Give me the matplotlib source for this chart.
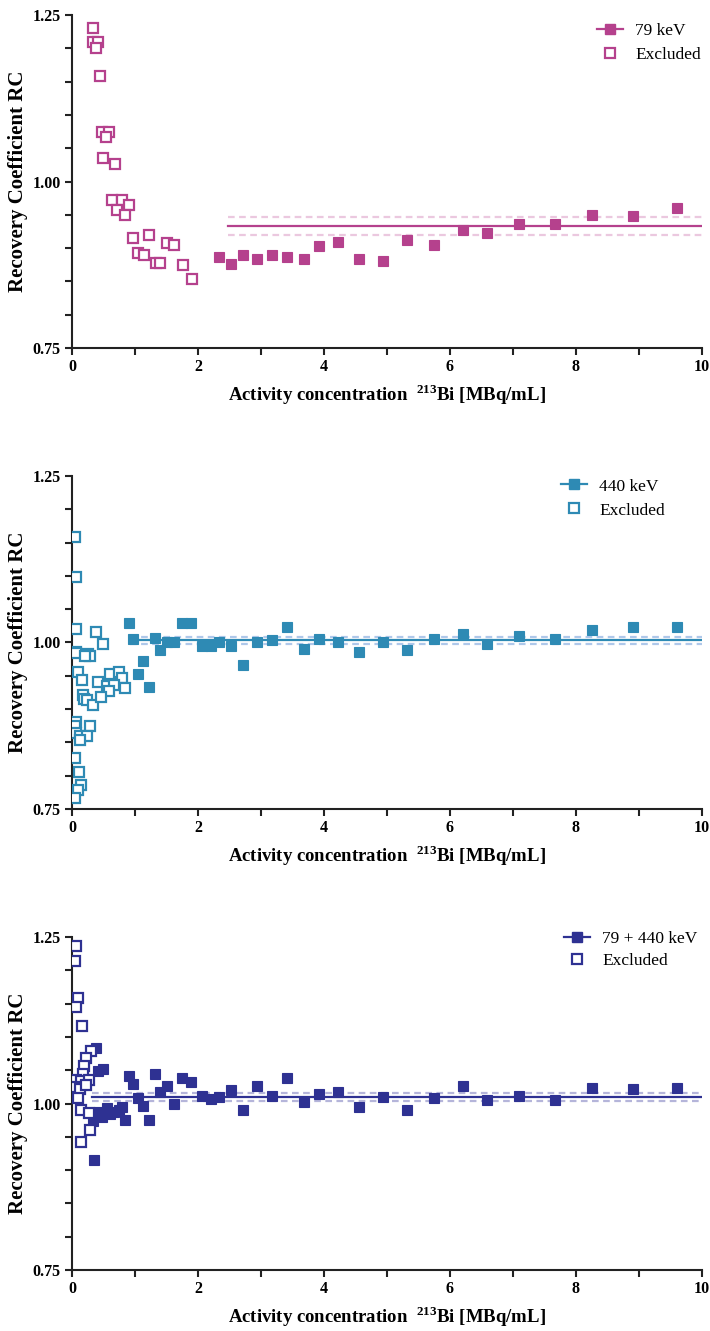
import matplotlib
matplotlib.use("Agg")
import matplotlib.pyplot as plt
from matplotlib.ticker import MultipleLocator, FixedLocator

plt.rcParams['font.family'] = ['Liberation Serif', 'DejaVu Serif']
plt.rcParams['mathtext.fontset'] = 'custom'
plt.rcParams['mathtext.rm'] = 'Liberation Serif:bold'
plt.rcParams['mathtext.bf'] = 'Liberation Serif:bold'

# ---------------- data ----------------
# Panel 1: 79 keV
excl1_x = [0.33, 0.34, 0.42, 0.38, 0.44, 0.47, 0.59, 0.54, 0.50, 0.68, 0.63, 0.79, 0.90,
           0.72, 0.84, 0.97, 1.22, 1.05, 1.14, 1.51, 1.62, 1.33, 1.40, 1.76, 1.90]
excl1_y = [1.231, 1.210, 1.210, 1.200, 1.158, 1.074, 1.075, 1.067, 1.035, 1.027, 0.972, 0.972,
           0.965, 0.957, 0.950, 0.915, 0.919, 0.892, 0.889, 0.908, 0.905, 0.877, 0.877, 0.875, 0.854]
incl1_x = [2.34, 2.52, 2.72, 2.94, 3.17, 3.42, 3.69, 3.92, 4.23, 4.56, 4.93, 5.31, 5.74,
           6.20, 6.58, 7.10, 7.66, 8.26, 8.91, 9.61]
incl1_y = [0.886, 0.876, 0.889, 0.884, 0.890, 0.886, 0.883, 0.903, 0.909, 0.883, 0.880, 0.912,
           0.905, 0.927, 0.923, 0.936, 0.936, 0.950, 0.948, 0.960]
incl1_err = [0.002, 0.002, 0.002, 0.002, 0.002, 0.002, 0.002, 0.002, 0.002, 0.002, 0.002, 0.002,
             0.002, 0.006, 0.006, 0.002, 0.002, 0.006, 0.006, 0.002]
mean1, lo1, hi1, start1 = 0.934, 0.920, 0.947, 2.48

# Panel 2: 440 keV
excl2_x = [0.05, 0.06, 0.06, 0.38, 0.50, 0.06, 0.07, 0.26, 0.29, 0.21, 0.10, 0.16, 0.41,
           0.61, 0.74, 0.79, 0.55, 0.67, 0.59, 0.84, 0.18, 0.19, 0.24, 0.34, 0.46, 0.06,
           0.05, 0.29, 0.07, 0.13, 0.24, 0.12, 0.05, 0.11, 0.15, 0.10, 0.05]
excl2_y = [1.158, 1.098, 1.020, 1.015, 0.998, 0.986, 0.984, 0.983, 0.979, 0.979, 0.956, 0.943,
           0.941, 0.953, 0.956, 0.947, 0.935, 0.936, 0.927, 0.932, 0.921, 0.915, 0.914, 0.906,
           0.918, 0.880, 0.874, 0.874, 0.864, 0.859, 0.860, 0.854, 0.826, 0.806, 0.786, 0.779, 0.767]
incl2_x = [0.90, 0.97, 1.05, 1.13, 1.22, 1.32, 1.40, 1.51, 1.62, 1.75, 1.89, 2.06, 2.21,
           2.34, 2.52, 2.72, 2.94, 3.17, 3.42, 3.69, 3.92, 4.23, 4.56, 4.93, 5.31, 5.74,
           6.20, 6.58, 7.10, 7.66, 8.26, 8.91, 9.61]
incl2_y = [1.029, 1.005, 0.953, 0.972, 0.933, 1.006, 0.989, 1.000, 1.000, 1.029, 1.029, 0.995,
           0.995, 1.001, 0.995, 0.966, 1.001, 1.003, 1.023, 0.990, 1.005, 1.001, 0.985, 1.000,
           0.988, 1.005, 1.013, 0.997, 1.010, 1.005, 1.018, 1.023, 1.023]
mean2, lo2, hi2, start2 = 1.003, 0.997, 1.008, 0.92

# Panel 3: 79 + 440 keV
excl3_x = [0.06, 0.05, 0.09, 0.07, 0.16, 0.30, 0.22, 0.19, 0.17, 0.06, 0.14, 0.27, 0.06,
           0.12, 0.22, 0.10, 0.14, 0.27, 0.29, 0.14]
excl3_y = [1.236, 1.214, 1.158, 1.145, 1.116, 1.079, 1.069, 1.056, 1.045, 1.036, 1.034, 1.035,
           1.025, 1.022, 1.028, 1.009, 0.990, 0.986, 0.960, 0.942]
incl3_x = [0.33, 0.35, 0.38, 0.42, 0.43, 0.47, 0.50, 0.55, 0.60, 0.67, 0.74, 0.80, 0.84,
           0.90, 0.97, 1.05, 1.13, 1.22, 1.32, 1.40, 1.51, 1.62, 1.75, 1.89, 2.06, 2.21,
           2.34, 2.52, 2.72, 2.94, 3.17, 3.42, 3.69, 3.92, 4.23, 4.56, 4.93, 5.31, 5.74,
           6.20, 6.58, 7.10, 7.66, 8.26, 8.91, 9.61]
incl3_y = [0.974, 0.915, 1.083, 1.049, 0.987, 0.980, 1.052, 0.993, 0.985, 0.987, 0.990, 0.995,
           0.975, 1.041, 1.029, 1.008, 0.996, 0.975, 1.045, 1.017, 1.026, 1.000, 1.038, 1.032,
           1.011, 1.007, 1.010, 1.021, 0.990, 1.027, 1.011, 1.038, 1.002, 1.014, 1.018, 0.995,
           1.010, 0.991, 1.009, 1.026, 1.005, 1.011, 1.006, 1.023, 1.022, 1.024]
mean3, lo3, hi3, start3 = 1.010, 1.004, 1.016, 0.31

labels = ["79 keV", "440 keV", "79 + 440 keV"]
colors = ["#B5418D", "#2E8AB4", "#2E3192"]
light = ["#EBC8DF", "#AFC8EA", "#B5B5DA"]

xmax = 10

fig = plt.figure(figsize=(7.10, 13.31), dpi=100)
bottoms = [0.7385, 0.3922, 0.0458]
legend_x = [0.8167, 0.7595, 0.7643]
legend_y = [1.008, 1.024, 1.049]
legend_sp = [0.45, 0.45, 0.33]

panels = [
    (excl1_x, excl1_y, incl1_x, incl1_y, incl1_err, mean1, lo1, hi1, start1),
    (excl2_x, excl2_y, incl2_x, incl2_y, None, mean2, lo2, hi2, start2),
    (excl3_x, excl3_y, incl3_x, incl3_y, None, mean3, lo3, hi3, start3),
]

for i, (ex, ey, ix, iy, ierr, m, lo, hi, st) in enumerate(panels):
    ax = fig.add_axes([0.1014, bottoms[i], 0.8873, 0.2502])
    c = colors[i]
    # mean and CI lines
    ax.plot([st, xmax], [lo, lo], color=light[i], lw=1.6, dashes=(3, 2), zorder=1)
    ax.plot([st, xmax], [hi, hi], color=light[i], lw=1.6, dashes=(3, 2), zorder=1)
    ax.plot([st, xmax], [m, m], color=c, lw=1.6, zorder=2)
    # included points
    if ierr is not None:
        ax.errorbar(ix, iy, yerr=ierr, fmt='none', ecolor=c, elinewidth=1.2,
                    capsize=3, capthick=1.2, zorder=3)
    ax.plot(ix, iy, ls='none', marker='s', ms=7.2, mfc=c, mec=c, mew=0.8, zorder=4)
    # excluded
    ax.plot(ex, ey, ls='none', marker='s', ms=7.0, mfc='white', mec=c, mew=1.6, zorder=5)

    # legend handles
    h1, = ax.plot([], [], color=c, lw=1.6, marker='s', ms=7, mfc=c, mec=c)
    h2, = ax.plot([], [], ls='none', marker='s', ms=7, mfc='white', mec=c, mew=1.6)
    ax.legend([h1, h2], [labels[i], "Excluded"], loc='upper left',
              bbox_to_anchor=(legend_x[i], legend_y[i]), frameon=False, fontsize=12.5,
              handlelength=1.5, handletextpad=0.7, labelspacing=legend_sp[i],
              borderaxespad=0.2)

    ax.set_xlim(0, xmax)
    ax.set_ylim(0.75, 1.25)
    for s in ['top', 'right']:
        ax.spines[s].set_visible(False)
    for s in ['left', 'bottom']:
        ax.spines[s].set_linewidth(1.5)
        ax.spines[s].set_color('#222222')
    ax.xaxis.set_major_locator(MultipleLocator(2))
    ax.xaxis.set_minor_locator(MultipleLocator(1))
    ax.yaxis.set_major_locator(FixedLocator([0.75, 1.00, 1.25]))
    ax.yaxis.set_minor_locator(MultipleLocator(0.05))
    ax.tick_params(axis='both', which='both', direction='out', width=1.5, color='#222222')
    ax.tick_params(axis='both', which='major', length=5, labelsize=11.5, pad=3)
    ax.tick_params(axis='both', which='minor', length=5)
    ax.set_yticklabels(["0.75", "1.00", "1.25"])
    for lab in ax.get_xticklabels() + ax.get_yticklabels():
        lab.set_fontweight('bold')
    ax.set_xlabel(r"Activity concentration  $^{\mathbf{213}}$Bi [MBq/mL]",
                  fontsize=13.5, fontweight='bold', labelpad=5)
    ax.set_ylabel("Recovery Coefficient RC", fontsize=15, fontweight='bold')
    ax.yaxis.set_label_coords(-0.070, 0.5)

fig.savefig("out.png", dpi=100)
